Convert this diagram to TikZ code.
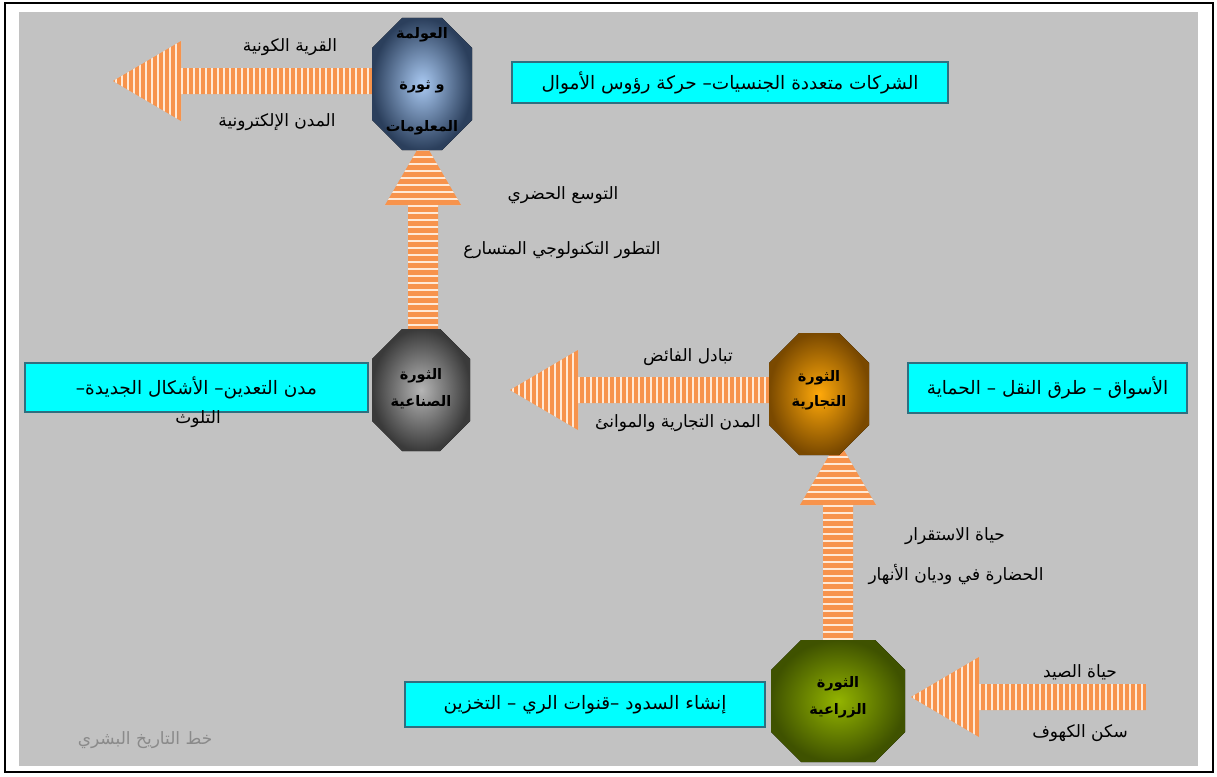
\documentclass[tikz,border=0pt]{standalone}
\usepackage{fontspec}
\newfontfamily\ar[Script=Arabic]{DejaVu Sans}
\TeXXeTstate=1
\definecolor{bg}{HTML}{C2C2C2}
\definecolor{cy}{HTML}{00FFFF}
\definecolor{cyb}{HTML}{2F6F80}
\definecolor{arr}{HTML}{F7934C}
\definecolor{strp}{HTML}{FFE9D6}
\definecolor{capt}{HTML}{8A8A8A}
\definecolor{o1in}{HTML}{A9C9F2}
\definecolor{o1out}{HTML}{2B3F5C}
\definecolor{o2in}{HTML}{B5B5B5}
\definecolor{o2out}{HTML}{3A3A3A}
\definecolor{o3in}{HTML}{FFA90A}
\definecolor{o3out}{HTML}{7A4900}
\definecolor{o4in}{HTML}{93B400}
\definecolor{o4out}{HTML}{3F5200}
\tikzset{
  lbl/.style={font=\ar\fontsize{17}{19}\selectfont, text=black, inner sep=1pt},
  boxtext/.style={draw=cyb, line width=2pt, fill=cy, font=\ar\fontsize{18.5}{20}\selectfont, text=black, inner sep=2pt},
  octtext/.style={font=\ar\bfseries\fontsize{14.5}{16}\selectfont, text=black, align=center, inner sep=0pt},
}
% octagon: name, cx, cy, half width, half height, inner colour, outer colour
\newcommand\octagon[7]{%
  \fill[inner color=#6, outer color=#7]
    (#2-#4+30,#3-#5) -- (#2+#4-30,#3-#5) -- (#2+#4,#3-#5+30) -- (#2+#4,#3+#5-30)
    -- (#2+#4-30,#3+#5) -- (#2-#4+30,#3+#5) -- (#2-#4,#3+#5-30) -- (#2-#4,#3-#5+30) -- cycle;
  \coordinate (#1) at (#2,#3);}
% left-pointing striped arrow: tip x, tail x, y
\newcommand\larrow[3]{%
  \begin{scope}
    \clip (#1,#3) -- (#1+68,#3-40) -- (#1+68,#3-13) -- (#2,#3-13) -- (#2,#3+13)
      -- (#1+68,#3+13) -- (#1+68,#3+40) -- cycle;
    \fill[arr] (#1,#3-42) rectangle (#2,#3+42);
    \pgfmathtruncatemacro\nn{(#2-#1)/6}
    \foreach \k in {0,...,\nn} \draw[strp, line width=1.6pt] ({#1+3+6*\k},#3-42) -- ++(0,84);
  \end{scope}}
% up-pointing striped arrow: x, tip y, tail y
\newcommand\uarrow[3]{%
  \begin{scope}
    \clip (#1,#2) -- (#1+38,#2+65) -- (#1+15,#2+65) -- (#1+15,#3) -- (#1-15,#3)
      -- (#1-15,#2+65) -- (#1-38,#2+65) -- cycle;
    \fill[arr] (#1-40,#2) rectangle (#1+40,#3);
    \pgfmathtruncatemacro\nn{(#3-#2)/7}
    \foreach \k in {0,...,\nn} \draw[strp, line width=2.4pt] (#1-40,{#2+3+7*\k}) -- ++(80,0);
  \end{scope}}
\begin{document}
\begin{tikzpicture}[x=1pt,y=-1pt]
\useasboundingbox (0,0) rectangle (1217,776);
\fill[white] (0,0) rectangle (1217,776);
\draw[black, line width=2.5pt] (5,3) rectangle (1213,772);
\fill[bg] (19,12) rectangle (1198,766);

% arrows
\larrow{113}{372}{81}
\uarrow{423}{140}{330}
\larrow{510}{770}{390}
\uarrow{838}{440}{640}
\larrow{911}{1146}{697}

% octagons
\octagon{o1}{422}{84}{50}{66}{o1in}{o1out}
\octagon{o2}{421}{390}{49}{61}{o2in}{o2out}
\octagon{o3}{819}{394}{50}{61}{o3in}{o3out}
\octagon{o4}{838}{701}{67}{61}{o4in}{o4out}

\node[octtext] (t1a) at (422,35) {\beginR العولمة\endR};
\node[octtext] (t1b) at (422,87) {\beginR و ثورة\endR};
\node[octtext] (t1c) at (422,128) {\beginR المعلومات\endR};
\node[octtext] (t2) at (421,389) {\beginR الثورة\endR\\[11pt]\beginR الصناعية\endR};
\node[octtext] (t3) at (819,390) {\beginR الثورة\endR\\[9pt]\beginR التجارية\endR};
\node[octtext] (t4) at (838,697) {\beginR الثورة\endR\\[11pt]\beginR الزراعية\endR};

% boxes
\node[boxtext, minimum width=436pt, minimum height=41pt] (b1) at (730,82.5) {\beginR الشركات متعددة الجنسيات– حركة رؤوس الأموال\endR};
\node[boxtext, minimum width=343pt, minimum height=49pt] (b2) at (196.5,387.5) {\beginR مدن التعدين– الأشكال الجديدة–\endR};
\node[lbl] (b2x) at (198,419) {\beginR التلوث\endR};
\node[boxtext, minimum width=279pt, minimum height=50pt] (b3) at (1047.5,388) {\beginR الأسواق – طرق النقل – الحماية\endR};
\node[boxtext, minimum width=360pt, minimum height=45pt] (b4) at (585,704.5) {\beginR إنشاء السدود –قنوات الري – التخزين\endR};

% labels
\node[lbl] (l1) at (290,47) {\beginR القرية الكونية\endR};
\node[lbl] (l2) at (277,122) {\beginR المدن الإلكترونية\endR};
\node[lbl] (l3) at (563,195) {\beginR التوسع الحضري\endR};
\node[lbl] (l4) at (562,250) {\beginR التطور التكنولوجي المتسارع\endR};
\node[lbl] (l5) at (688,357) {\beginR تبادل الفائض\endR};
\node[lbl] (l6) at (678,423) {\beginR المدن التجارية والموانئ\endR};
\node[lbl] (l7) at (955,536) {\beginR حياة الاستقرار\endR};
\node[lbl] (l8) at (956,574) {\beginR الحضارة في وديان الأنهار\endR};
\node[lbl] (l9) at (1080,672) {\beginR حياة الصيد\endR};
\node[lbl] (l10) at (1080,733) {\beginR سكن الكهوف\endR};
\node[lbl, text=capt] (cap) at (145,740) {\beginR خط التاريخ البشري\endR};
\end{tikzpicture}
\end{document}
